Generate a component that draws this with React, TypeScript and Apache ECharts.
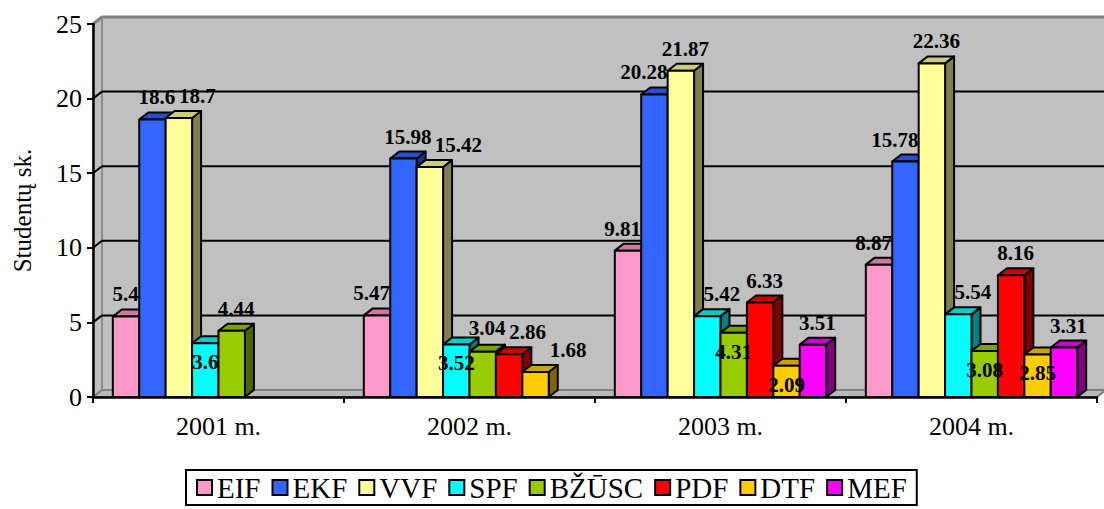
import React, { useEffect, useRef } from "react";
import * as echarts from "echarts";

const categories = ["2001 m.", "2002 m.", "2003 m.", "2004 m."];
const faculties = ["EIF", "EKF", "VVF", "SPF", "BŽŪSC", "PDF", "DTF", "MEF"];
const eif = [5.4, 5.47, 9.81, 8.87];
const ekf = [18.6, 15.98, 20.28, 15.78];
const vvf = [18.7, 15.42, 21.87, 22.36];
const spf = [3.6, 3.52, 5.42, 5.54];
const bzusc = [4.44, 3.04, 4.31, 3.08];
const pdf = [null, 2.86, 6.33, 8.16];
const dtf = [null, 1.68, 2.09, 2.85];
const mef = [null, null, 3.51, 3.31];
const yTicks = [0, 5, 10, 15, 20, 25];
const yAxisTitle = "Studentų sk.";

const seriesValues: (number | null)[][] = [eif, ekf, vvf, spf, bzusc, pdf, dtf, mef];

const frontColors = ["#FF99CC", "#3366FF", "#FFFF99", "#00FFFF", "#99CC00", "#FF0000", "#FFCC00", "#FF00FF"];
const topColors = ["#CC7AA3", "#2850CC", "#CCCC7A", "#00CCCC", "#7AA300", "#CC0000", "#CCA300", "#CC00CC"];
const sideColors = ["#804C66", "#1A3380", "#80804C", "#008080", "#4C6600", "#800000", "#806600", "#800080"];

const DX = 9;
const DY = -7;
const SERIF = "Liberation Serif, Times New Roman, serif";
const LABEL_FONT = "bold 21px Liberation Serif, serif";

let measureCtx: CanvasRenderingContext2D | null = null;
function textWidth(t: string) {
  if (!measureCtx) measureCtx = document.createElement("canvas").getContext("2d");
  if (!measureCtx) return t.length * 10;
  measureCtx.font = LABEL_FONT;
  return measureCtx.measureText(t).width;
}

function barGeom(api: any, ci: number, si: number, v: number) {
  const base = api.coord([ci, 0]);
  const top = api.coord([ci, v]);
  const catW = api.size([1, 0])[0];
  const w = catW / (faculties.length + 1.5);
  const x0 = base[0] - catW / 2 + 0.75 * w + si * w;
  return { x0, x1: x0 + w, yt: top[1], yb: base[1], w };
}

function renderBar(params: any, api: any) {
  const v = api.value(1);
  if (v === null || v === undefined || isNaN(v)) return null;
  const si = params.seriesIndex;
  const g = barGeom(api, api.value(0), si, v);
  const { x0, x1, yt, yb, w } = g;
  const stroke = { stroke: "#000", lineWidth: 2, lineJoin: "round" };
  return {
    type: "group",
    children: [
      {
        type: "polygon",
        shape: { points: [[x1, yt], [x1 + DX, yt + DY], [x1 + DX, yb + DY], [x1, yb]] },
        style: { fill: sideColors[si], ...stroke },
      },
      {
        type: "polygon",
        shape: { points: [[x0, yt], [x0 + DX, yt + DY], [x1 + DX, yt + DY], [x1, yt]] },
        style: { fill: topColors[si], ...stroke },
      },
      {
        type: "rect",
        shape: { x: x0, y: yt, width: w, height: yb - yt },
        style: { fill: frontColors[si], ...stroke },
      },
    ],
  };
}

type Box = { l: number; r: number; t: number; b: number };
function overlaps(a: Box, b: Box) {
  return a.l < b.r && a.r > b.l && a.t < b.b && a.b > b.t;
}

// Data labels: placed above the bar; nudged up, moved sideways or put inside the bar when they collide.
function renderLabels(params: any, api: any) {
  const ci = api.value(0);
  const bars: any[] = [];
  seriesValues.forEach((vals, si) => {
    const v = vals[ci];
    if (v === null || v === undefined) return;
    bars.push({ si, v, ...barGeom(api, ci, si, v) });
  });
  const placed: Box[] = [];
  const children: any[] = [];
  const GH = 15;
  bars.forEach((g) => {
    const text = String(g.v);
    const tw = textWidth(text);
    const cx0 = (g.x0 + g.x1) / 2 + DX / 2;
    const bl0 = g.yt + DY - 8;
    const test = (cx: number, bl: number, mY: number) => {
      const box = { l: cx - tw / 2, r: cx + tw / 2, t: bl - GH, b: bl };
      for (const p of placed) {
        if (overlaps({ l: box.l - 3, r: box.r + 3, t: box.t - 5, b: box.b + 5 }, p)) return false;
      }
      for (const o of bars) {
        if (o.si === g.si) continue;
        const body = { l: o.x0, r: o.x1 + DX, t: o.yt + DY, b: o.yb };
        if (overlaps({ l: box.l, r: box.r, t: box.t, b: box.b + mY }, body)) return false;
      }
      return true;
    };
    let cx = cx0;
    let bl = bl0;
    let ok = test(cx0, bl0, 2);
    for (let k = 1; k <= 8 && !ok; k++) {
      if (test(cx0, bl0 - k, 2)) {
        bl = bl0 - k;
        ok = true;
      }
    }
    if (!ok) {
      const maxD = Math.round(1.2 * g.w);
      for (let d = 1; d <= maxD && !ok; d++) {
        for (const s of [1, -1]) {
          if (test(cx0 + s * d, bl0, 20)) {
            cx = cx0 + s * d;
            ok = true;
            break;
          }
        }
      }
    }
    if (!ok && g.yb - g.yt >= 24) {
      cx = (g.x0 + g.x1) / 2;
      bl = Math.min(g.yt + 26, g.yb - 4);
      ok = true;
    }
    if (!ok) {
      for (let k = 1; k <= 12 && !ok; k++) {
        if (test(cx0, bl0 - 16 * k, 2)) {
          cx = cx0;
          bl = bl0 - 16 * k;
          ok = true;
        }
      }
    }
    placed.push({ l: cx - tw / 2, r: cx + tw / 2, t: bl - GH, b: bl });
    children.push({
      type: "text",
      z2: 100,
      x: cx,
      y: bl - 7,
      style: {
        text,
        fill: "#000",
        font: LABEL_FONT,
        align: "center",
        verticalAlign: "middle",
        textAlign: "center",
        textVerticalAlign: "middle",
      },
    });
  });
  return { type: "group", children };
}

function renderWall(params: any, api: any) {
  const v = api.value(1);
  const catW = api.size([1, 0])[0];
  const left = api.coord([0, 0])[0] - catW / 2;
  const right = api.coord([categories.length - 1, 0])[0] + catW / 2;
  const yMin = yTicks[0];
  const yMax = yTicks[yTicks.length - 1];
  const y0 = api.coord([0, yMin])[1];
  const yTop = api.coord([0, yMax])[1];
  const y = api.coord([0, v])[1];
  const children: any[] = [];
  if (params.dataIndex === 0) {
    children.push(
      {
        type: "rect",
        shape: { x: left + DX, y: yTop + DY, width: right - left + 20, height: y0 - yTop },
        style: { fill: "#C0C0C0" },
      },
      {
        type: "polygon",
        shape: { points: [[left, yTop], [left + DX, yTop + DY], [left + DX, y0 + DY], [left, y0]] },
        style: { fill: "#C0C0C0", stroke: "#808080", lineWidth: 1.5 },
      },
      {
        type: "polygon",
        shape: { points: [[left, y0], [left + DX, y0 + DY], [right + DX, y0 + DY], [right, y0]] },
        style: { fill: "#B8B8B8", stroke: "#808080", lineWidth: 2 },
      },
      {
        type: "line",
        shape: { x1: left + DX, y1: yTop + DY, x2: left + DX, y2: y0 + DY },
        style: { stroke: "#8C8C8C", lineWidth: 2 },
      },
      {
        type: "line",
        shape: { x1: left + DX, y1: yTop + DY, x2: right + DX + 20, y2: yTop + DY },
        style: { stroke: "#808080", lineWidth: 3 },
      },
      {
        type: "line",
        shape: { x1: left, y1: yTop, x2: left + DX, y2: yTop + DY },
        style: { stroke: "#808080", lineWidth: 3 },
      }
    );
  }
  if (v > yMin && v < yMax) {
    children.push(
      {
        type: "line",
        shape: { x1: left + DX, y1: y + DY, x2: right + DX + 20, y2: y + DY },
        style: { stroke: "#000", lineWidth: 2 },
      },
      {
        type: "line",
        shape: { x1: left, y1: y, x2: left + DX, y2: y + DY },
        style: { stroke: "#000", lineWidth: 2 },
      }
    );
  }
  return { type: "group", children };
}

export default function App() {
  const ref = useRef<HTMLDivElement>(null);
  useEffect(() => {
    if (!ref.current) return;
    const chart = echarts.init(ref.current, null, { renderer: "svg" });
    const barSeries = faculties.map((name, si) => ({
      name,
      type: "custom",
      renderItem: renderBar,
      itemStyle: { color: frontColors[si] },
      encode: { x: 0, y: 1 },
      data: categories.map((_, ci) => [ci, seriesValues[si][ci]]),
      z: 2,
    }));
    chart.setOption({
      animation: false,
      backgroundColor: "#fff",
      grid: { left: 93, right: 7, top: 24, bottom: 112, containLabel: false },
      legend: {
        data: faculties,
        left: 186,
        top: 470,
        icon: "rect",
        itemWidth: 15,
        itemHeight: 15,
        itemGap: 11,
        padding: [3, 10, 3, 10],
        borderColor: "#000",
        borderWidth: 2,
        itemStyle: { borderColor: "#000", borderWidth: 2 },
        textStyle: { fontFamily: SERIF, fontSize: 29, color: "#000" },
      },
      xAxis: {
        type: "category",
        data: categories,
        boundaryGap: true,
        axisLine: { show: true, lineStyle: { color: "#000", width: 2.5 } },
        axisTick: { show: true, length: 6, lineStyle: { color: "#000", width: 2 } },
        axisLabel: { fontFamily: SERIF, fontSize: 26, color: "#000", margin: 16 },
        splitLine: { show: false },
        z: 3,
      },
      yAxis: {
        type: "value",
        min: yTicks[0],
        max: yTicks[yTicks.length - 1],
        interval: yTicks[1] - yTicks[0],
        name: yAxisTitle,
        nameLocation: "middle",
        nameRotate: 90,
        nameGap: 58,
        nameTextStyle: { fontFamily: SERIF, fontSize: 25, color: "#000" },
        axisLine: { show: true, lineStyle: { color: "#000", width: 2.5 } },
        axisTick: { show: true, length: 6, lineStyle: { color: "#000", width: 2 } },
        axisLabel: { fontFamily: SERIF, fontSize: 26, color: "#000", margin: 11 },
        splitLine: { show: false },
        z: 3,
      },
      series: [
        ...barSeries,
        {
          name: "wall",
          type: "custom",
          renderItem: renderWall,
          encode: { x: 0, y: 1 },
          data: yTicks.map((t) => [0, t]),
          z: -1,
          silent: true,
        },
        {
          name: "labels",
          type: "custom",
          renderItem: renderLabels,
          encode: { x: 0, y: 1 },
          data: categories.map((_, ci) => [ci, 0]),
          z: 5,
          silent: true,
        },
      ],
    });
    return () => chart.dispose();
  }, []);
  return (
    <div
      ref={ref}
      style={{ position: "absolute", left: 0, top: 0, width: 1104, height: 509 }}
    />
  );
}
